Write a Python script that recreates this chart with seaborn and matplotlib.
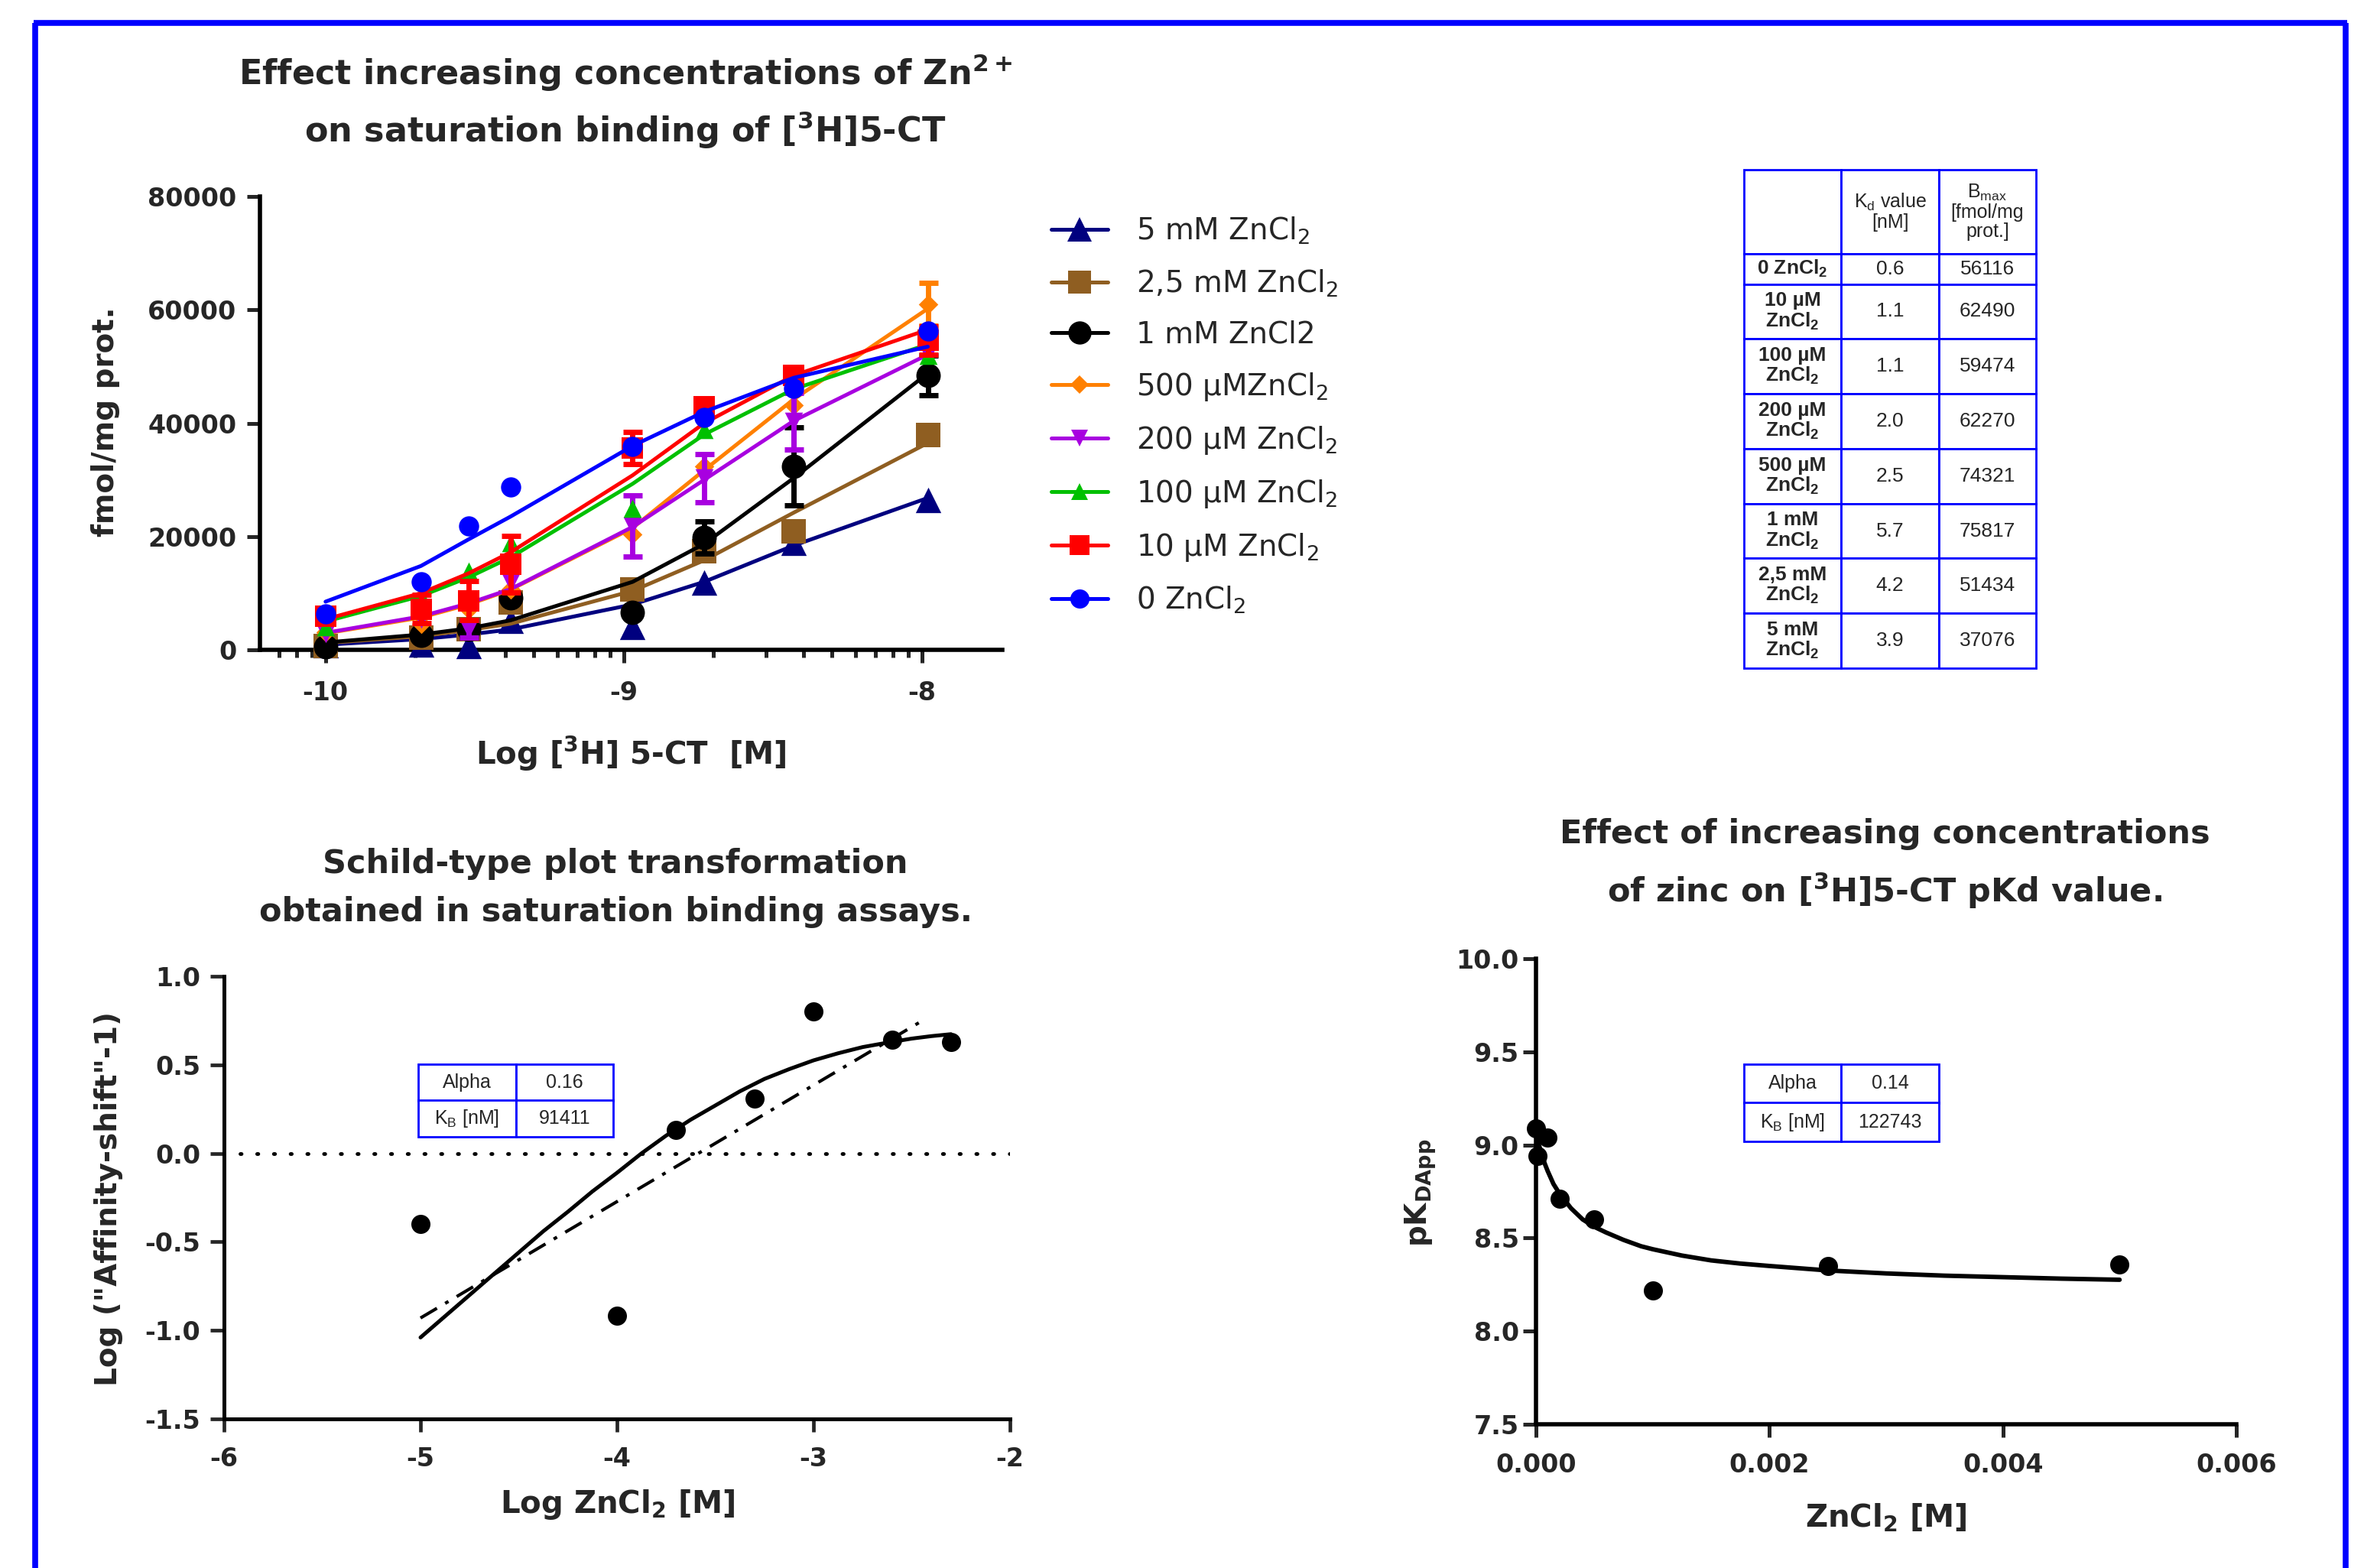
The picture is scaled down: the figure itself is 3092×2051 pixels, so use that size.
import numpy as np
import pandas as pd
import matplotlib
matplotlib.use("Agg")
import matplotlib.pyplot as plt
from matplotlib.lines import Line2D
from matplotlib.ticker import FixedLocator, FormatStrFormatter
import seaborn as sns

W, H = 3092, 2051

# saturation binding: x positions (log M) shared by all series
log_conc = [-10.0, -9.68, -9.52, -9.38, -8.97, -8.73, -8.43, -7.98]

series_labels = ["5 mM ZnCl$_2$", "2,5 mM ZnCl$_2$", "1 mM ZnCl2", "500 µMZnCl$_2$",
                 "200 µM ZnCl$_2$", "100 µM ZnCl$_2$", "10 µM ZnCl$_2$", "0 ZnCl$_2$"]
series_colors = ["#00007F", "#8F5E21", "#000000", "#FF8000",
                 "#A800E0", "#00C000", "#FF0000", "#0000FF"]
series_markers = ["^", "s", "o", "D", "v", "^", "s", "o"]
series_msize = [24, 23, 23, 13, 17, 17, 20, 19]

# measured means
pts_5mM = [800, 1000, 700, 5100, 4000, 11900, 18900, 26500]
pts_2p5mM = [700, 2200, 3700, 8400, 10700, 17400, 20900, 37900]
pts_1mM = [500, 2500, 3700, 9200, 6600, 19800, 32400, 48400]
pts_500uM = [3100, 4600, 7200, 10700, 20400, 32400, 43200, 61000]
pts_200uM = [2800, 5400, 3700, 11900, 21800, 30300, 40300, 52200]
pts_100uM = [4000, 9500, 13900, 18900, 25000, 38800, 47000, 51900]
pts_10uM = [6000, 7200, 8700, 15100, 35600, 42900, 48400, 54600]
pts_0 = [6300, 12000, 21900, 28700, 35900, 41000, 46200, 56300]

# error bars (0 = none drawn)
err_5mM = [0, 0, 0, 0, 0, 0, 0, 0]
err_2p5mM = [0, 0, 0, 0, 0, 0, 0, 0]
err_1mM = [0, 0, 1500, 0, 0, 2800, 6900, 3500]
err_500uM = [0, 0, 0, 0, 0, 0, 0, 3800]
err_200uM = [0, 0, 1500, 0, 5400, 4300, 5000, 0]
err_100uM = [0, 0, 0, 0, 0, 0, 0, 0]
err_10uM = [0, 2500, 3500, 5000, 2800, 0, 0, 2500]
err_0 = [0, 0, 0, 0, 0, 0, 0, 0]

# fitted curves read at the same x positions
fit_5mM = [900, 1900, 2700, 3600, 8000, 12000, 18400, 26800]
fit_2p5mM = [1200, 2400, 3500, 4600, 10400, 15800, 24200, 36500]
fit_1mM = [1300, 2700, 3800, 5200, 12000, 18700, 30300, 48800]
fit_500uM = [2900, 5700, 8000, 10600, 21500, 31700, 44200, 60200]
fit_200uM = [3000, 5900, 8200, 10700, 21700, 30000, 40400, 52100]
fit_100uM = [5000, 9500, 12800, 16300, 29300, 38000, 46000, 53900]
fit_10uM = [5400, 10000, 13500, 17200, 30800, 40000, 48400, 56500]
fit_0 = [8500, 14800, 19500, 23500, 36000, 42000, 48000, 53500]

all_pts = [pts_5mM, pts_2p5mM, pts_1mM, pts_500uM, pts_200uM, pts_100uM, pts_10uM, pts_0]
all_err = [err_5mM, err_2p5mM, err_1mM, err_500uM, err_200uM, err_100uM, err_10uM, err_0]
all_fit = [fit_5mM, fit_2p5mM, fit_1mM, fit_500uM, fit_200uM, fit_100uM, fit_10uM, fit_0]

# table of fit parameters
table_rows = ["0 ZnCl$_2$", "10 µM\nZnCl$_2$", "100 µM\nZnCl$_2$",
              "200 µM\nZnCl$_2$", "500 µM\nZnCl$_2$", "1 mM\nZnCl$_2$",
              "2,5 mM\nZnCl$_2$", "5 mM\nZnCl$_2$"]
kd_values = ["0.6", "1.1", "1.1", "2.0", "2.5", "5.7", "4.2", "3.9"]
bmax_values = ["56116", "62490", "59474", "62270", "74321", "75817", "51434", "37076"]
table_header = ["", "K$_d$ value\n[nM]", "B$_{max}$\n[fmol/mg\nprot.]"]

# Schild-type plot
schild_x = [-5.0, -4.0, -3.70, -3.30, -3.0, -2.60, -2.30]
schild_y = [-0.40, -0.915, 0.13, 0.31, 0.80, 0.64, 0.63]
schild_curve_x = [-5.0, -4.875, -4.75, -4.625, -4.5, -4.375, -4.25, -4.125, -4.0,
                  -3.875, -3.75, -3.625, -3.5, -3.375, -3.25, -3.125, -3.0,
                  -2.875, -2.75, -2.625, -2.5, -2.4, -2.3]
schild_curve_y = [-1.04, -0.92, -0.80, -0.68, -0.56, -0.44, -0.33, -0.215, -0.11,
                  0.0, 0.10, 0.19, 0.27, 0.35, 0.42, 0.475, 0.525,
                  0.565, 0.60, 0.625, 0.648, 0.662, 0.673]
schild_line_x = [-5.0, -2.46]
schild_line_y = [-0.93, 0.74]
schild_table = [["Alpha", "0.16"], ["K$_B$ [nM]", "91411"]]

# pKd vs zinc
pk_x = [0.0, 0.00001, 0.0001, 0.0002, 0.0005, 0.001, 0.0025, 0.005]
pk_y = [9.09, 8.94, 9.04, 8.71, 8.60, 8.22, 8.35, 8.36]
pk_curve_x = [0.0, 0.00001, 0.00002, 0.00003, 0.00005, 0.000075, 0.0001, 0.00015,
              0.0002, 0.0003, 0.0004, 0.0005, 0.0006, 0.00075, 0.0009, 0.001,
              0.00125, 0.0015, 0.00175, 0.002, 0.0025, 0.003, 0.0035, 0.004,
              0.0045, 0.005]
pk_curve_y = [9.07, 9.04, 9.01, 8.99, 8.95, 8.90, 8.86, 8.79,
              8.74, 8.66, 8.60, 8.56, 8.53, 8.49, 8.456, 8.44,
              8.406, 8.38, 8.363, 8.35, 8.326, 8.31, 8.298, 8.29,
              8.282, 8.276]
pk_table = [["Alpha", "0.14"], ["K$_B$ [nM]", "122743"]]

BOLD_FONT = ["DejaVu Sans"]
TABLE_FONT = ["Liberation Sans", "DejaVu Sans"]
NARROW_FONT = ["Liberation Sans Narrow", "Liberation Sans", "DejaVu Sans"]


def px_rect(x0, y0, x1, y1):
    return [x0 / W, 1 - y1 / H, (x1 - x0) / W, (y1 - y0) / H]


def ftext(fig, x, y, s, **kw):
    kw.setdefault("ha", "center")
    kw.setdefault("va", "center")
    return fig.text(x / W, 1 - y / H, s, **kw)


def style_axes(ax, lw):
    sns.despine(ax=ax)
    for side in ["left", "bottom"]:
        ax.spines[side].set_linewidth(lw)
        ax.spines[side].set_color("black")
    ax.set_facecolor("white")


def small_table(fig, rect, cells, colsplit):
    ax = fig.add_axes(rect)
    ax.axis("off")
    tab = ax.table(cellText=cells, cellLoc="center", bbox=[0, 0, 1, 1])
    tab.auto_set_font_size(False)
    for (r, c), cell in tab.get_celld().items():
        cell.set_edgecolor("#0000FF")
        cell.set_linewidth(2)
        cell.set_width(colsplit if c == 0 else 1 - colsplit)
        cell.get_text().set_fontsize(18)
        cell.get_text().set_fontweight("normal")
        cell.get_text().set_family(NARROW_FONT)
    return tab


def main():
    sns.set_theme(style="ticks")
    plt.rcParams["font.family"] = BOLD_FONT
    plt.rcParams["font.weight"] = "bold"
    plt.rcParams["axes.unicode_minus"] = False
    plt.rcParams["mathtext.default"] = "regular"

    fig = plt.figure(figsize=(W / 100, H / 100), dpi=100)
    fig.patch.set_facecolor("white")

    # Step 1: blue frame
    for xs, ys in [([44, 3070], [30, 30]), ([46, 46], [30, 2060]), ([3068, 3068], [30, 2060])]:
        fig.add_artist(Line2D([x / W for x in xs], [1 - y / H for y in ys],
                              transform=fig.transFigure, color="#0000FF", lw=5.5,
                              solid_capstyle="butt"))

    # Step 2: saturation binding plot
    ax = fig.add_axes(px_rect(340, 257, 1311, 850))
    style_axes(ax, 4.0)
    for i in range(len(series_labels)):
        col = series_colors[i]
        sns.lineplot(x=log_conc, y=all_fit[i], ax=ax, color=col, lw=3.6,
                     sort=False, zorder=3 + i, clip_on=False)
        err = np.array(all_err[i])
        mask = err > 0
        if mask.any():
            ax.errorbar(np.array(log_conc)[mask], np.array(all_pts[i])[mask],
                        yerr=err[mask], fmt="none", ecolor=col, elinewidth=5,
                        capsize=9, capthick=5, zorder=3 + i)
        sns.scatterplot(x=log_conc, y=all_pts[i], ax=ax, color=col,
                        marker=series_markers[i], s=series_msize[i] ** 2,
                        linewidth=0, zorder=3.5 + i, clip_on=False)
    ax.set_xlim(-10.22, -7.73)
    ax.set_ylim(0, 80000)
    ax.xaxis.set_major_locator(FixedLocator([-10, -9, -8]))
    minor = [d + np.log10(k) for d in (-11, -10, -9, -8) for k in range(2, 10)]
    minor = [m for m in minor if -10.22 <= m <= -7.73]
    ax.xaxis.set_minor_locator(FixedLocator(minor))
    ax.xaxis.set_major_formatter(FormatStrFormatter("%d"))
    ax.yaxis.set_major_locator(FixedLocator([0, 20000, 40000, 60000, 80000]))
    ax.yaxis.set_major_formatter(FormatStrFormatter("%d"))
    ax.tick_params(axis="y", length=12, width=3.6, pad=10, labelsize=24)
    ax.tick_params(axis="x", which="major", length=12, width=3.6, pad=17, labelsize=24)
    ax.tick_params(axis="x", which="minor", length=7, width=3.6)
    ax.set_xlabel("")
    ax.set_ylabel("")

    ftext(fig, 818, 95, "Effect increasing concentrations of Zn$^{2+}$", fontsize=32)
    ftext(fig, 818, 170, "on saturation binding of [$^3$H]5-CT", fontsize=32)
    ftext(fig, 138, 552, "fmol/mg prot.", fontsize=28, rotation=90)
    ftext(fig, 825, 986, "Log [$^3$H] 5-CT  [M]", fontsize=29)

    # legend
    handles = [Line2D([], [], color=series_colors[i], lw=3.6, marker=series_markers[i],
                      markersize=series_msize[i] * 0.95, markeredgewidth=0)
               for i in range(len(series_labels))]
    fig.legend(handles, series_labels, loc="upper left",
               bbox_to_anchor=(1375 / W, 1 - 282 / H), frameon=False,
               borderpad=0, borderaxespad=0, handlelength=1.9, handletextpad=0.95,
               labelspacing=0.72, prop={"size": 28, "weight": "normal", "family": BOLD_FONT})

    # Step 3: Kd / Bmax table
    tax = fig.add_axes(px_rect(2281, 222, 2663, 874))
    tax.axis("off")
    cells = [table_header] + [[table_rows[i], kd_values[i], bmax_values[i]]
                              for i in range(len(table_rows))]
    tab = tax.table(cellText=cells, cellLoc="center", bbox=[0, 0, 1, 1])
    tab.auto_set_font_size(False)
    row_h = [110, 40] + [72] * 7
    for (r, c), cell in tab.get_celld().items():
        cell.set_edgecolor("#0000FF")
        cell.set_linewidth(2)
        cell.set_height(row_h[r])
        cell.set_width(1.0)
        t = cell.get_text()
        t.set_family(TABLE_FONT)
        t.set_fontsize(19 if r > 0 else 18)
        t.set_linespacing(1.05)
        t.set_fontweight("bold" if (c == 0 and r > 0) else "normal")

    # Step 4: Schild-type plot
    ax2 = fig.add_axes(px_rect(293, 1277, 1321, 1856))
    style_axes(ax2, 3.6)
    ax2.axhline(0, xmin=0.02, xmax=1, color="black", lw=3.5, ls=(0, (0.3, 4.2)),
                dash_capstyle="round", zorder=2)
    sns.lineplot(x=schild_curve_x, y=schild_curve_y, ax=ax2, color="black", lw=3.6, zorder=3)
    sns.lineplot(x=schild_line_x, y=schild_line_y, ax=ax2, color="black", lw=3.0,
                 linestyle=(0, (6, 3, 1.2, 3)), zorder=3)
    sns.scatterplot(x=schild_x, y=schild_y, ax=ax2, color="black", s=18 ** 2,
                    linewidth=0, zorder=4)
    ax2.set_xlim(-6, -2)
    ax2.set_ylim(-1.5, 1.0)
    ax2.xaxis.set_major_locator(FixedLocator([-6, -5, -4, -3, -2]))
    ax2.xaxis.set_major_formatter(FormatStrFormatter("%d"))
    ax2.yaxis.set_major_locator(FixedLocator([-1.5, -1.0, -0.5, 0.0, 0.5, 1.0]))
    ax2.yaxis.set_major_formatter(FormatStrFormatter("%.1f"))
    ax2.tick_params(axis="y", length=13, width=3.4, pad=9, labelsize=24)
    ax2.tick_params(axis="x", length=12, width=3.4, pad=14, labelsize=24)
    ax2.set_xlabel("")
    ax2.set_ylabel("")
    small_table(fig, px_rect(547, 1392, 802, 1487), schild_table, (675 - 547) / (802 - 547))

    ftext(fig, 805, 1130, "Schild-type plot transformation", fontsize=31)
    ftext(fig, 805, 1193, "obtained in saturation binding assays.", fontsize=31)
    ftext(fig, 142, 1568, "Log (\"Affinity-shift\"-1)", fontsize=28, rotation=90)
    ftext(fig, 808, 1968, "Log ZnCl$_2$ [M]", fontsize=29)

    # Step 5: pKd plot
    ax3 = fig.add_axes(px_rect(2009, 1254, 2925, 1863))
    style_axes(ax3, 4.0)
    sns.lineplot(x=pk_curve_x, y=pk_curve_y, ax=ax3, color="black", lw=4.2, zorder=3)
    sns.scatterplot(x=pk_x, y=pk_y, ax=ax3, color="black", s=18 ** 2,
                    linewidth=0, zorder=4, clip_on=False)
    ax3.set_xlim(0, 0.006)
    ax3.set_ylim(7.5, 10.0)
    ax3.xaxis.set_major_locator(FixedLocator([0, 0.002, 0.004, 0.006]))
    ax3.xaxis.set_major_formatter(FormatStrFormatter("%.3f"))
    ax3.yaxis.set_major_locator(FixedLocator([7.5, 8.0, 8.5, 9.0, 9.5, 10.0]))
    ax3.yaxis.set_major_formatter(FormatStrFormatter("%.1f"))
    ax3.tick_params(axis="y", length=12, width=3.6, pad=4, labelsize=24)
    ax3.tick_params(axis="x", length=12, width=3.6, pad=15, labelsize=24)
    ax3.set_xlabel("")
    ax3.set_ylabel("")
    small_table(fig, px_rect(2281, 1392, 2536, 1493), pk_table, (2408 - 2281) / (2536 - 2281))

    ftext(fig, 2465, 1091, "Effect of increasing concentrations", fontsize=31)
    ftext(fig, 2465, 1165, "of zinc on [$^3$H]5-CT pKd value.", fontsize=31)
    ftext(fig, 1858, 1560, "pK$_{DApp}$", fontsize=28, rotation=90)
    ftext(fig, 2467, 1986, "ZnCl$_2$ [M]", fontsize=29)

    fig.savefig("out.png", dpi=100, facecolor="white")
    plt.close(fig)


if __name__ == "__main__":
    main()
